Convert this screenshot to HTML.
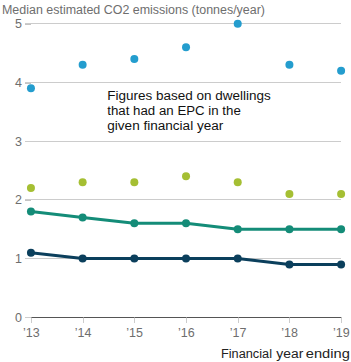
<!DOCTYPE html>
<html><head><meta charset="utf-8"><style>
html,body{margin:0;padding:0;background:#fff;width:351px;height:362px;overflow:hidden}
svg{display:block;font-family:"Liberation Sans",sans-serif}
</style></head><body>
<svg width="351" height="362" viewBox="0 0 351 362">
<line x1="25" y1="258.5" x2="341" y2="258.5" stroke="#cccccc" stroke-width="1"/>
<line x1="25" y1="199.5" x2="341" y2="199.5" stroke="#cccccc" stroke-width="1"/>
<line x1="25" y1="141.5" x2="341" y2="141.5" stroke="#cccccc" stroke-width="1"/>
<line x1="25" y1="82.5" x2="341" y2="82.5" stroke="#cccccc" stroke-width="1"/>
<line x1="25" y1="23.5" x2="341" y2="23.5" stroke="#cccccc" stroke-width="1"/>
<line x1="25" y1="24.5" x2="31" y2="24.5" stroke="#c4c4c4" stroke-width="1"/>
<line x1="25" y1="83.5" x2="31" y2="83.5" stroke="#c4c4c4" stroke-width="1"/>
<line x1="25" y1="200.5" x2="31" y2="200.5" stroke="#c4c4c4" stroke-width="1"/>
<line x1="25" y1="317.5" x2="31" y2="317.5" stroke="#cccccc" stroke-width="1"/>
<line x1="31" y1="317.5" x2="341.5" y2="317.5" stroke="#555555" stroke-width="1"/>
<line x1="31.5" y1="317.5" x2="31.5" y2="323.0" stroke="#cccccc" stroke-width="1"/>
<line x1="83.5" y1="317.5" x2="83.5" y2="323.0" stroke="#cccccc" stroke-width="1"/>
<line x1="134.5" y1="317.5" x2="134.5" y2="323.0" stroke="#cccccc" stroke-width="1"/>
<line x1="186.5" y1="317.5" x2="186.5" y2="323.0" stroke="#cccccc" stroke-width="1"/>
<line x1="238.5" y1="317.5" x2="238.5" y2="323.0" stroke="#cccccc" stroke-width="1"/>
<line x1="289.5" y1="317.5" x2="289.5" y2="323.0" stroke="#cccccc" stroke-width="1"/>
<line x1="341.5" y1="317.5" x2="341.5" y2="323.0" stroke="#cccccc" stroke-width="1"/>
<polyline points="30.95,211.60 82.64,217.48 134.33,223.35 186.03,223.35 237.72,229.22 289.41,229.22 341.10,229.22" fill="none" stroke="#148c78" stroke-width="3" stroke-linejoin="round"/>
<polyline points="30.95,252.71 82.64,258.58 134.33,258.58 186.03,258.58 237.72,258.58 289.41,264.45 341.10,264.45" fill="none" stroke="#0b3f5c" stroke-width="3" stroke-linejoin="round"/>
<circle cx="30.95" cy="88.29" r="4" fill="#249dce"/>
<circle cx="82.64" cy="64.80" r="4" fill="#249dce"/>
<circle cx="134.33" cy="58.93" r="4" fill="#249dce"/>
<circle cx="186.03" cy="47.19" r="4" fill="#249dce"/>
<circle cx="237.72" cy="23.70" r="4" fill="#249dce"/>
<circle cx="289.41" cy="64.80" r="4" fill="#249dce"/>
<circle cx="341.10" cy="70.68" r="4" fill="#249dce"/>
<circle cx="30.95" cy="188.12" r="4" fill="#a5bf33"/>
<circle cx="82.64" cy="182.24" r="4" fill="#a5bf33"/>
<circle cx="134.33" cy="182.24" r="4" fill="#a5bf33"/>
<circle cx="186.03" cy="176.37" r="4" fill="#a5bf33"/>
<circle cx="237.72" cy="182.24" r="4" fill="#a5bf33"/>
<circle cx="289.41" cy="193.99" r="4" fill="#a5bf33"/>
<circle cx="341.10" cy="193.99" r="4" fill="#a5bf33"/>
<circle cx="30.95" cy="211.60" r="4" fill="#148c78"/>
<circle cx="82.64" cy="217.48" r="4" fill="#148c78"/>
<circle cx="134.33" cy="223.35" r="4" fill="#148c78"/>
<circle cx="186.03" cy="223.35" r="4" fill="#148c78"/>
<circle cx="237.72" cy="229.22" r="4" fill="#148c78"/>
<circle cx="289.41" cy="229.22" r="4" fill="#148c78"/>
<circle cx="341.10" cy="229.22" r="4" fill="#148c78"/>
<circle cx="30.95" cy="252.71" r="4" fill="#0b3f5c"/>
<circle cx="82.64" cy="258.58" r="4" fill="#0b3f5c"/>
<circle cx="134.33" cy="258.58" r="4" fill="#0b3f5c"/>
<circle cx="186.03" cy="258.58" r="4" fill="#0b3f5c"/>
<circle cx="237.72" cy="258.58" r="4" fill="#0b3f5c"/>
<circle cx="289.41" cy="264.45" r="4" fill="#0b3f5c"/>
<circle cx="341.10" cy="264.45" r="4" fill="#0b3f5c"/>
<text x="22" y="321.8" text-anchor="end" font-size="12.5" fill="#6e6e6e">0</text>
<text x="22" y="263.1" text-anchor="end" font-size="12.5" fill="#6e6e6e">1</text>
<text x="22" y="204.4" text-anchor="end" font-size="12.5" fill="#6e6e6e">2</text>
<text x="22" y="145.6" text-anchor="end" font-size="12.5" fill="#6e6e6e">3</text>
<text x="22" y="86.9" text-anchor="end" font-size="12.5" fill="#6e6e6e">4</text>
<text x="22" y="28.2" text-anchor="end" font-size="12.5" fill="#6e6e6e">5</text>
<text x="31.3" y="337" text-anchor="middle" font-size="12.5" fill="#6e6e6e">’13</text>
<text x="83.0" y="337" text-anchor="middle" font-size="12.5" fill="#6e6e6e">’14</text>
<text x="134.6" y="337" text-anchor="middle" font-size="12.5" fill="#6e6e6e">’15</text>
<text x="186.3" y="337" text-anchor="middle" font-size="12.5" fill="#6e6e6e">’16</text>
<text x="238.0" y="337" text-anchor="middle" font-size="12.5" fill="#6e6e6e">’17</text>
<text x="289.6" y="337" text-anchor="middle" font-size="12.5" fill="#6e6e6e">’18</text>
<text x="341.3" y="337" text-anchor="middle" font-size="12.5" fill="#6e6e6e">’19</text>
<text x="2" y="13.6" font-size="12.5" fill="#6e6e6e" textLength="263" lengthAdjust="spacingAndGlyphs">Median estimated CO2 emissions (tonnes/year)</text>
<text x="221" y="358" font-size="12.5" fill="#222222" textLength="51" lengthAdjust="spacingAndGlyphs">Financial</text>
<text x="276.3" y="358" font-size="12.5" fill="#222222" textLength="27" lengthAdjust="spacingAndGlyphs">year</text>
<text x="305.8" y="358" font-size="12.5" fill="#222222" textLength="44" lengthAdjust="spacingAndGlyphs">ending</text>
<text x="107.3" y="100.0" font-size="12.5" fill="#111111" textLength="163.5" lengthAdjust="spacingAndGlyphs">Figures based on dwellings</text>
<text x="107.3" y="115.0" font-size="12.5" fill="#111111" textLength="133.5" lengthAdjust="spacingAndGlyphs">that had an EPC in the</text>
<text x="107.3" y="129.9" font-size="12.5" fill="#111111" textLength="116" lengthAdjust="spacingAndGlyphs">given financial year</text>
</svg>
</body></html>
